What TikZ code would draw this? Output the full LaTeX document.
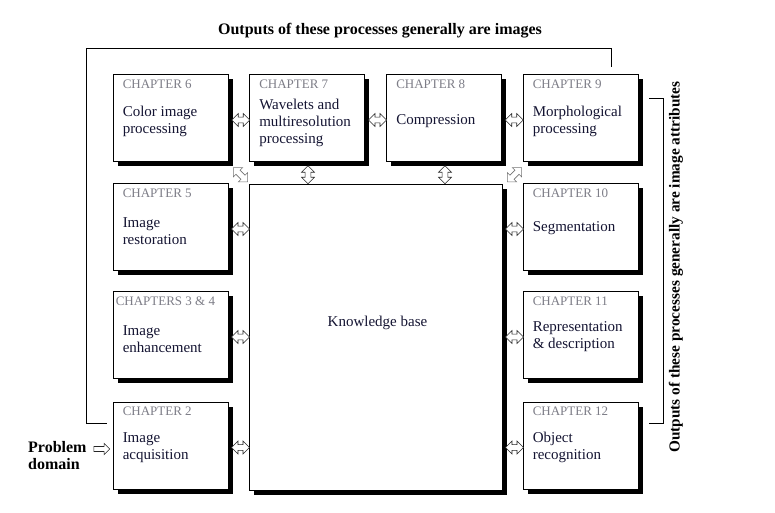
\documentclass[tikz,border=0pt]{standalone}
\usepackage{fontspec}
\setmainfont{Liberation Serif}
\usetikzlibrary{shapes.arrows,calc,shadows}
\definecolor{chgray}{RGB}{125,125,135}
\definecolor{bodyink}{RGB}{20,20,50}
\begin{document}
\begin{tikzpicture}[x=1pt,y=-1pt,
  box/.style={draw, fill=white, line width=0.9pt, inner sep=0pt,
    minimum width=115pt, minimum height=87pt,
    drop shadow={fill=black, opacity=1, shadow xshift=4.5pt, shadow yshift=-4.5pt}},
  chlabel/.style={anchor=base west, inner sep=0pt, text=chgray,
    font=\fontsize{13}{14}\selectfont},
  bodytext/.style={anchor=west, inner sep=0pt, align=left, text=bodyink,
    font=\fontsize{15}{17}\selectfont},
  dbl/.style={double arrow, draw=black!85, fill=white, line width=0.6pt,
    inner sep=2.6pt, minimum height=18pt, double arrow head extend=3.6pt},
  dbldiag/.style={dbl, draw=black!55, minimum height=20pt},
  sgl/.style={single arrow, draw=black!85, fill=white, line width=0.6pt,
    inner sep=2.2pt, minimum height=16pt, single arrow head extend=3.2pt},
  bold/.style={font=\fontsize{16}{17}\selectfont\bfseries, inner sep=0pt}
]
\useasboundingbox (0,0) rectangle (775,513);

% boxes
\node[box] (c6) at (170.5,118) {};
\node[box] (c7) at (307,118) {};
\node[box] (c8) at (444,118) {};
\node[box] (c9) at (580.5,118) {};
\node[box] (c5) at (170.5,227) {};
\node[box] (c34) at (170.5,335) {};
\node[box] (c2) at (170.5,445.5) {};
\node[box] (c10) at (580.5,227) {};
\node[box] (c11) at (580.5,335) {};
\node[box] (c12) at (580.5,445.5) {};
\node[box, minimum width=253pt, minimum height=306pt] (kb) at (375.5,337) {};

% chapter labels
\foreach \b/\t in {c6/CHAPTER 6, c7/CHAPTER 7, c8/CHAPTER 8, c9/CHAPTER 9,
  c5/CHAPTER 5, c2/CHAPTER 2, c10/CHAPTER 10,
  c11/CHAPTER 11, c12/CHAPTER 12}
  \node[chlabel] (\b l) at ($(\b.north west)+(10,14)$) {\t};
\node[chlabel] (c34l) at ($(c34.north west)+(3,14)$) {CHAPTERS 3 \& 4};

% body texts
\node[bodytext] (c6t) at ($(c6.west)+(10,3)$) {Color image\\processing};
\node[bodytext] (c7t) at ($(c7.west)+(10,5)$) {Wavelets and\\multiresolution\\processing};
\node[bodytext] (c8t) at ($(c8.west)+(10,3)$) {Compression};
\node[bodytext] (c9t) at ($(c9.west)+(10,3)$) {Morphological\\processing};
\node[bodytext] (c5t) at ($(c5.west)+(10,4)$) {Image\\restoration};
\node[bodytext] (c34t) at ($(c34.west)+(10,4)$) {Image\\enhancement};
\node[bodytext] (c2t) at ($(c2.west)+(10,2)$) {Image\\acquisition};
\node[bodytext] (c10t) at ($(c10.west)+(10,1)$) {Segmentation};
\node[bodytext] (c11t) at ($(c11.west)+(10,2)$) {Representation\\\& description};
\node[bodytext] (c12t) at ($(c12.west)+(10,2)$) {Object\\recognition};
\node[anchor=center, inner sep=0pt, text=bodyink, font=\fontsize{15}{17}\selectfont]
  (kbt) at ($(kb.north)+(2,139)$) {Knowledge base};

% horizontal double arrows
\foreach \a/\b in {c6/c7, c7/c8, c8/c9, c5/kb, c34/kb, c2/kb}
  \node[dbl] at ($($(\a.east)+(4,0)$)!0.5!(\a.east -| \b.west)+(0,2)$) {};
\foreach \a/\b in {c10/kb, c11/kb, c12/kb}
  \node[dbl] at ($($(\a.west -| \b.east)+(4,0)$)!0.5!(\a.west)+(0,2)$) {};
% vertical double arrows
\foreach \a in {c7, c8}
  \node[dbl, rotate=90] at ($($(\a.south)+(2,4)$)!0.5!(\a.south |- kb.north)$) {};
% diagonal double arrows
\node[dbldiag, rotate=-45] at ($($(c6.south east)+(4,4)$)!0.5!(kb.north west)$) {};
\node[dbldiag, rotate=45] at ($($(c9.south west)+(0,4)$)!0.5!($(kb.north east)+(4,0)$)$) {};

% feedback line (outputs are images)
\coordinate (fbA) at ($(c2.west)+(-6,-22.5)$);
\coordinate (fbB) at ($(c9.north)+(31,-7)$);
\draw[line width=0.8pt] (fbA) -- ++(-20,0) |- ($(fbB)+(0,-19)$) -- (fbB);

% right bracket (outputs are image attributes)
\coordinate (brA) at ($(c9.east)+(11,-20)$);
\coordinate (brB) at ($(c12.east)+(11,-22.5)$);
\draw[line width=0.8pt] (brA) -- ++(14,0) |- (brB);

% titles
\node[bold] (top) at (380,31) {Outputs of these processes generally are images};
\node[bold, font=\fontsize{15.3}{17}\selectfont\bfseries, rotate=90] (side) at (676,267) {Outputs of these processes generally are image attributes};

% problem domain
\node[bold, align=left, anchor=west] (pd) at (28,456) {Problem\\domain};
\node[sgl] (pda) at ($(c2.west)+(-12,3.5)$) {};
\end{tikzpicture}
\end{document}
